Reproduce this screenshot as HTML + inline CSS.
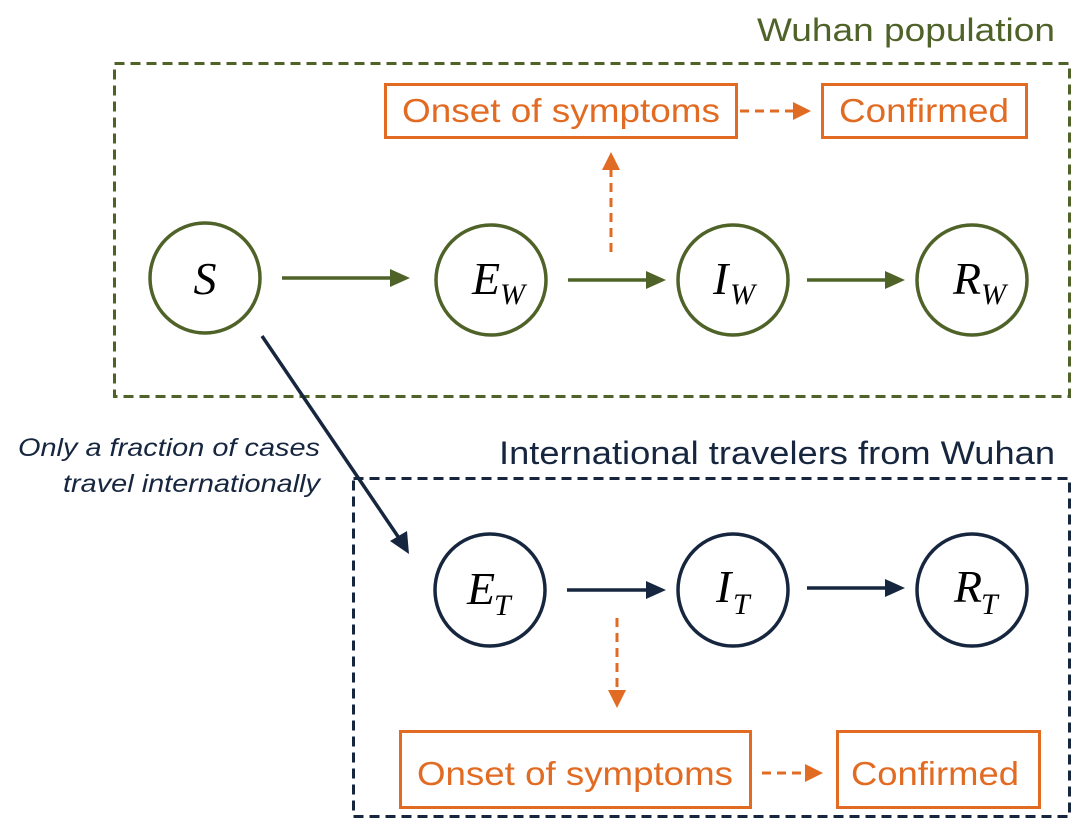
<!DOCTYPE html>
<html><head><meta charset="utf-8"><style>html,body{margin:0;padding:0;background:#fff}svg{display:block}</style></head>
<body>
<svg width="1084" height="833" viewBox="0 0 1084 833" xmlns="http://www.w3.org/2000/svg">
<g font-family="Liberation Sans, sans-serif">
<!-- Wuhan box -->
<rect x="114.5" y="63.5" width="955" height="333" fill="none" stroke="#4f6228" stroke-width="3" stroke-dasharray="10,6"/>
<text x="1055" y="41" font-size="32" fill="#4f6228" text-anchor="end" textLength="298" lengthAdjust="spacingAndGlyphs">Wuhan population</text>
<!-- Travelers box -->
<rect x="353.5" y="478.5" width="716" height="338" fill="none" stroke="#17263f" stroke-width="3" stroke-dasharray="10,6"/>
<text x="1055" y="464" font-size="32" fill="#17263f" text-anchor="end" textLength="556" lengthAdjust="spacingAndGlyphs">International travelers from Wuhan</text>

<!-- top circles -->
<g fill="none" stroke="#4f6228" stroke-width="3.5">
<circle cx="205" cy="278" r="55"/>
<circle cx="491" cy="280" r="55"/>
<circle cx="733" cy="280" r="55"/>
<circle cx="972" cy="280" r="55"/>
</g>
<g font-family="Liberation Serif, serif" font-style="italic" font-size="46" fill="#000">
<text x="205" y="294" text-anchor="middle">S</text>
<text x="472" y="294">E</text><text x="500" y="304" font-size="30">W</text>
<text x="713" y="294">I</text><text x="730" y="304" font-size="30">W</text>
<text x="953" y="294">R</text><text x="981" y="304" font-size="30">W</text>
</g>
<!-- top arrows -->
<g stroke="#4f6228" stroke-width="3.5">
<line x1="282" y1="278" x2="392" y2="278"/>
<line x1="568" y1="280" x2="648" y2="280"/>
<line x1="807" y1="280" x2="887" y2="280"/>
</g>
<g fill="#4f6228">
<polygon points="390,269 410,278 390,287"/>
<polygon points="646,271 666,280 646,289"/>
<polygon points="885,271 905,280 885,289"/>
</g>
<!-- top orange -->
<g stroke="#e26b24" stroke-width="3" fill="none">
<rect x="385.5" y="84.5" width="351" height="53"/>
<rect x="822.5" y="84.5" width="204" height="53"/>
<line x1="611" y1="252" x2="611" y2="170" stroke-dasharray="9,6"/>
<line x1="740" y1="111" x2="795" y2="111" stroke-dasharray="9,6"/>
</g>
<g fill="#e26b24">
<polygon points="602,170 611,152 620,170"/>
<polygon points="793,102 811,111 793,120"/>
</g>
<text x="561" y="122" font-size="33" fill="#e26b24" text-anchor="middle" textLength="318" lengthAdjust="spacingAndGlyphs">Onset of symptoms</text>
<text x="924" y="122" font-size="33" fill="#e26b24" text-anchor="middle" textLength="170" lengthAdjust="spacingAndGlyphs">Confirmed</text>

<!-- diagonal -->
<line x1="262" y1="336" x2="399" y2="538" stroke="#17263f" stroke-width="3.5"/>
<polygon points="390,541 409,554 407,531" fill="#17263f"/>
<g font-size="25" font-style="italic" fill="#17263f" text-anchor="end">
<text x="320" y="456" textLength="302" lengthAdjust="spacingAndGlyphs">Only a fraction of cases</text>
<text x="320" y="492" textLength="257" lengthAdjust="spacingAndGlyphs">travel internationally</text>
</g>

<!-- bottom circles -->
<g fill="none" stroke="#17263f" stroke-width="3.5">
<ellipse cx="490" cy="590" rx="55" ry="56"/>
<ellipse cx="733" cy="590" rx="55" ry="56"/>
<ellipse cx="972" cy="590" rx="55" ry="56"/>
</g>
<g font-family="Liberation Serif, serif" font-style="italic" font-size="46" fill="#000">
<text x="467" y="604">E</text><text x="494" y="615" font-size="30">T</text>
<text x="716" y="602">I</text><text x="733" y="614" font-size="30">T</text>
<text x="954" y="602">R</text><text x="981" y="614" font-size="30">T</text>
</g>
<g stroke="#17263f" stroke-width="3.5">
<line x1="567" y1="590" x2="648" y2="590"/>
<line x1="807" y1="588" x2="887" y2="588"/>
</g>
<g fill="#17263f">
<polygon points="646,581 666,590 646,599"/>
<polygon points="885,579 905,588 885,597"/>
</g>
<!-- bottom orange -->
<g stroke="#e26b24" stroke-width="3" fill="none">
<rect x="400.5" y="731.5" width="350" height="76"/>
<rect x="837.5" y="731.5" width="202" height="76"/>
<line x1="617" y1="618" x2="617" y2="692" stroke-dasharray="9,6"/>
<line x1="762" y1="773" x2="808" y2="773" stroke-dasharray="9,6"/>
</g>
<g fill="#e26b24">
<polygon points="608,690 617,708 626,690"/>
<polygon points="805,764 823,773 805,782"/>
</g>
<text x="575" y="785" font-size="33" fill="#e26b24" text-anchor="middle" textLength="316" lengthAdjust="spacingAndGlyphs">Onset of symptoms</text>
<text x="935" y="785" font-size="33" fill="#e26b24" text-anchor="middle" textLength="168" lengthAdjust="spacingAndGlyphs">Confirmed</text>
</g>
</svg>
</body></html>
